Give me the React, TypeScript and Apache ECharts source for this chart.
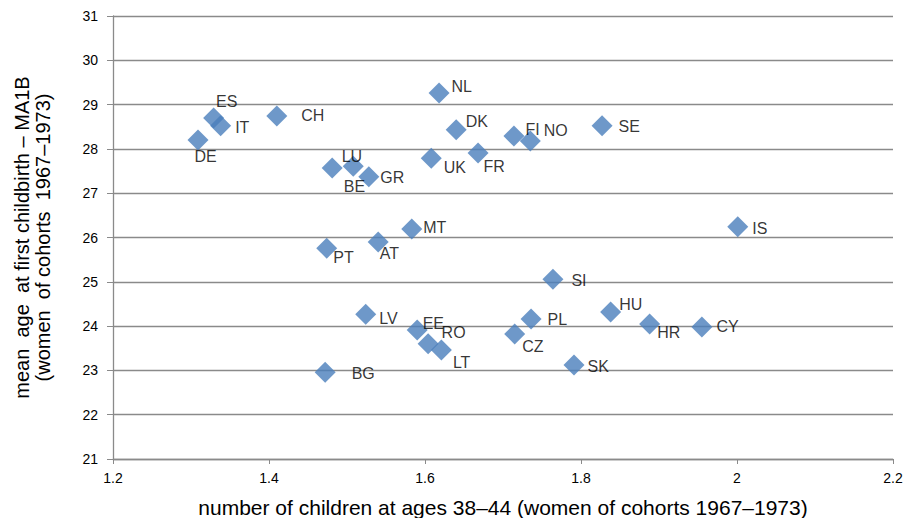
import React, { useEffect, useRef } from 'react';
import * as echarts from 'echarts';

// countries, completed fertility (x) and mean age at first birth (y)
const countries = [
  'DE', 'ES', 'IT', 'CH', 'LU', 'BE', 'GR', 'NL', 'DK', 'FI',
  'NO', 'SE', 'UK', 'FR', 'MT', 'PT', 'AT', 'SI', 'IS', 'LV',
  'EE', 'RO', 'LT', 'CZ', 'PL', 'HU', 'HR', 'CY', 'SK', 'BG',
];
const children = [
  1.309, 1.329, 1.338, 1.41, 1.481, 1.508, 1.528, 1.618, 1.64, 1.714,
  1.735, 1.827, 1.608, 1.668, 1.583, 1.474, 1.54, 1.764, 2.001, 1.524,
  1.59, 1.604, 1.621, 1.715, 1.736, 1.838, 1.888, 1.955, 1.791, 1.472,
];
const meanAge = [
  28.2, 28.7, 28.52, 28.74, 27.57, 27.61, 27.37, 29.26, 28.43, 28.29,
  28.18, 28.52, 27.79, 27.91, 26.19, 25.76, 25.9, 25.06, 26.24, 24.27,
  23.91, 23.6, 23.46, 23.82, 24.16, 24.32, 24.05, 23.98, 23.12, 22.96,
];

// label nudges (px) from the default right-hand position
const labelOffsets: Record<string, [number, number]> = {
  DE: [-14, 16], ES: [-8, -16], IT: [4, 2], CH: [14, -1], LU: [-1, -11],
  BE: [-20, 20], GR: [1, 1], NL: [2, -7], DK: [-1, -8], FI: [1, -7],
  NO: [3, -10], SE: [6, 1], UK: [2, 9], FR: [-5, 14], MT: [1, -2],
  PT: [-4, 9], AT: [-9, 12], SI: [8, 1], IS: [4, 2], LV: [3, 4],
  EE: [-5, -7], RO: [3, -11], LT: [1, 12], CZ: [-3, 12], PL: [6, 0],
  HU: [-2, -7], HR: [-3, 9], CY: [4, 0], SK: [3, 1], BG: [16, 1],
};

const FONT = '"Liberation Sans", Arial, sans-serif';
const GRID_GREY = '#8a8a8a';

export default function App() {
  const chartRef = useRef<HTMLDivElement>(null);

  useEffect(() => {
    if (!chartRef.current) return;
    const chart = echarts.init(chartRef.current, undefined, { renderer: 'svg' });

    const points = countries.map((c, i) => ({
      name: c,
      value: [children[i], meanAge[i]],
      label: { offset: labelOffsets[c] },
    }));

    chart.setOption({
      animation: false,
      textStyle: { fontFamily: FONT },
      grid: { left: 113, right: 12, top: 16, bottom: 59, outerBoundsMode: 'none' },
      xAxis: {
        type: 'value',
        min: 1.2,
        max: 2.2,
        interval: 0.2,
        name: 'number of children at ages 38–44 (women of cohorts 1967–1973)',
        nameLocation: 'middle',
        nameGap: 38,
        nameTextStyle: { fontSize: 21, color: '#000', fontFamily: FONT },
        axisLine: { show: true, lineStyle: { color: GRID_GREY, width: 1.3 } },
        axisTick: { show: true, length: 5, lineStyle: { color: GRID_GREY } },
        axisLabel: { fontSize: 14, color: '#000', margin: 12, fontFamily: FONT },
        splitLine: { show: false },
      },
      yAxis: {
        type: 'value',
        min: 21,
        max: 31,
        interval: 1,
        name: 'mean  age  at first childbirth – MA1B\n(women  of cohorts  1967–1973)',
        nameLocation: 'middle',
        nameRotate: 90,
        nameGap: 60,
        nameTextStyle: { fontSize: 20, color: '#000', lineHeight: 21, fontFamily: FONT },
        axisLine: { show: true, lineStyle: { color: GRID_GREY, width: 1.3 } },
        axisTick: { show: true, length: 6, lineStyle: { color: GRID_GREY } },
        axisLabel: { fontSize: 14, color: '#000', margin: 15, fontFamily: FONT },
        splitLine: { show: true, lineStyle: { color: GRID_GREY, width: 1.3 } },
      },
      series: [
        {
          type: 'scatter',
          symbol: 'diamond',
          symbolSize: 21,
          itemStyle: { color: '#4a7ebb' },
          label: {
            show: true,
            position: 'right',
            distance: 0,
            formatter: '{b}',
            fontSize: 16,
            color: '#000',
            fontFamily: FONT,
          },
          data: points,
        },
      ],
    });

    return () => {
      chart.dispose();
    };
  }, []);

  return (
    <div
      ref={chartRef}
      style={{ position: 'absolute', left: 0, top: 0, width: 905, height: 518, background: '#fff' }}
    />
  );
}
